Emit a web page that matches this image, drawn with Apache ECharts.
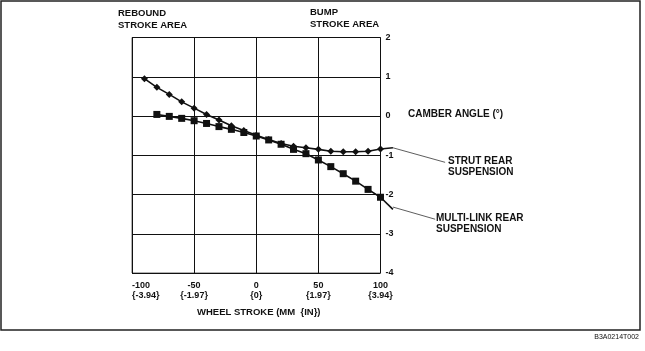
<!DOCTYPE html>
<html>
<head>
<meta charset="utf-8">
<script src="https://cdn.jsdelivr.net/npm/echarts@6/dist/echarts.min.js"></script>
<style>
  html, body { margin: 0; padding: 0; background: #fff; }
  #chart { width: 645px; height: 351px; }
</style>
</head>
<body>
<div id="chart"></div>
<script>
// wheel stroke (mm) and camber angle (deg)
const strutX = [-90, -80, -70, -60, -50, -40, -30, -20, -10, 0, 10, 20, 30, 40, 50, 60, 70, 80, 90, 100];
const strutY = [0.95, 0.73, 0.55, 0.36, 0.20, 0.04, -0.10, -0.25, -0.37, -0.49, -0.60, -0.70, -0.77, -0.81, -0.85, -0.90, -0.91, -0.91, -0.90, -0.84];
const multiX = [-80, -70, -60, -50, -40, -30, -20, -10, 0, 10, 20, 30, 40, 50, 60, 70, 80, 90, 100];
const multiY = [0.04, -0.01, -0.06, -0.12, -0.19, -0.27, -0.34, -0.42, -0.51, -0.61, -0.72, -0.85, -0.96, -1.12, -1.29, -1.47, -1.66, -1.87, -2.07];

const mmTicks = [-100, -50, 0, 50, 100];
const inchTicks = ['{-3.94}', '{-1.97}', '{0}', '{1.97}', '{3.94}'];

// leader lines to the series notes (data coords, right of the plot)
const strutTail = [[100, -0.84], [110, -0.81]];
const strutLeader = [[110, -0.81], [152, -1.18]];
const multiTail = [[100, -2.07], [110, -2.38]];
const multiLeader = [[110, -2.32], [144, -2.63]];

const FONT = 'Liberation Sans';
const txt = (text, size, extra) => Object.assign({
    text: text, fontFamily: FONT, fontWeight: 'bold', fontSize: size, fill: '#111', lineHeight: size + 2
}, extra || {});

const chart = echarts.init(document.getElementById('chart'));

const zip = (xs, ys) => xs.map((x, i) => [x, ys[i]]);

chart.setOption({
    animation: false,
    backgroundColor: '#fff',
    grid: {
        left: 132,
        right: 264.5,
        top: 37.5,
        bottom: 78,
        show: true,
        borderColor: '#666',
        borderWidth: 1
    },
    xAxis: {
        type: 'value',
        min: -100,
        max: 100,
        interval: 50,
        axisLine: { show: false },
        axisTick: { show: false },
        splitLine: { lineStyle: { color: '#111', width: 1 } },
        axisLabel: {
            margin: 8,
            lineHeight: 10,
            fontFamily: FONT,
            fontWeight: 'bold',
            fontSize: 9,
            color: '#111',
            alignMinLabel: 'left',
            formatter: v => v + '\n' + inchTicks[mmTicks.indexOf(v)]
        }
    },
    yAxis: {
        type: 'value',
        position: 'right',
        min: -4,
        max: 2,
        interval: 1,
        axisLine: { show: false },
        axisTick: { show: true, length: 3, lineStyle: { color: '#111' } },
        splitLine: { lineStyle: { color: '#111', width: 1 } },
        axisLabel: {
            margin: 5,
            fontFamily: FONT,
            fontWeight: 'bold',
            fontSize: 9,
            color: '#111'
        }
    },
    series: [
        {
            name: 'STRUT REAR SUSPENSION',
            type: 'line',
            data: zip(strutX, strutY),
            symbol: 'diamond',
            symbolSize: 7,
            itemStyle: { color: '#111' },
            lineStyle: { color: '#111', width: 1.6 },
            z: 3
        },
        {
            name: 'MULTI-LINK REAR SUSPENSION',
            type: 'line',
            data: zip(multiX, multiY),
            symbol: 'rect',
            symbolSize: 7,
            itemStyle: { color: '#111' },
            lineStyle: { color: '#111', width: 1.6 },
            z: 2
        }
    ],
    graphic: [
        {
            id: 'frame',
            type: 'rect',
            shape: { x: 1, y: 1, width: 639, height: 329 },
            style: { fill: 'none', stroke: '#222', lineWidth: 1.5 }
        },
        { id: 't1', type: 'text', left: 118, top: 8, style: txt('REBOUND\nSTROKE AREA', 9.5, { lineHeight: 11.5 }) },
        { id: 't2', type: 'text', left: 310, top: 7, style: txt('BUMP\nSTROKE AREA', 9.5, { lineHeight: 11.5 }) },
        { id: 't3', type: 'text', left: 408, top: 108, style: txt('CAMBER ANGLE (°)', 10) },
        { id: 't4', type: 'text', left: 448, top: 155, style: txt('STRUT REAR\nSUSPENSION', 10, { lineHeight: 11.5 }) },
        { id: 't5', type: 'text', left: 436, top: 212, style: txt('MULTI-LINK REAR\nSUSPENSION', 10, { lineHeight: 11.5 }) },
        { id: 't6', type: 'text', left: 197, top: 307, style: txt('WHEEL STROKE (MM  {IN})', 9.5) },
        { id: 't7', type: 'text', right: 6, top: 333, style: txt('B3A0214T002', 7, { fontWeight: 'normal' }) }
    ]
});

// leader lines: map data coords to pixels through the chart's axes
const toPx = pts => pts.map(p => chart.convertToPixel({ gridIndex: 0 }, p));
const leader = (id, pts, w, color) => ({
    id: id,
    type: 'polyline',
    shape: { points: toPx(pts) },
    style: { stroke: color, lineWidth: w, fill: null },
    z: 10
});
chart.setOption({
    graphic: [
        leader('l1', strutTail, 1.6, '#111'),
        leader('l2', multiTail, 1.6, '#111'),
        leader('l3', strutLeader, 0.8, '#333'),
        leader('l4', multiLeader, 0.8, '#333')
    ]
});
</script>
</body>
</html>
